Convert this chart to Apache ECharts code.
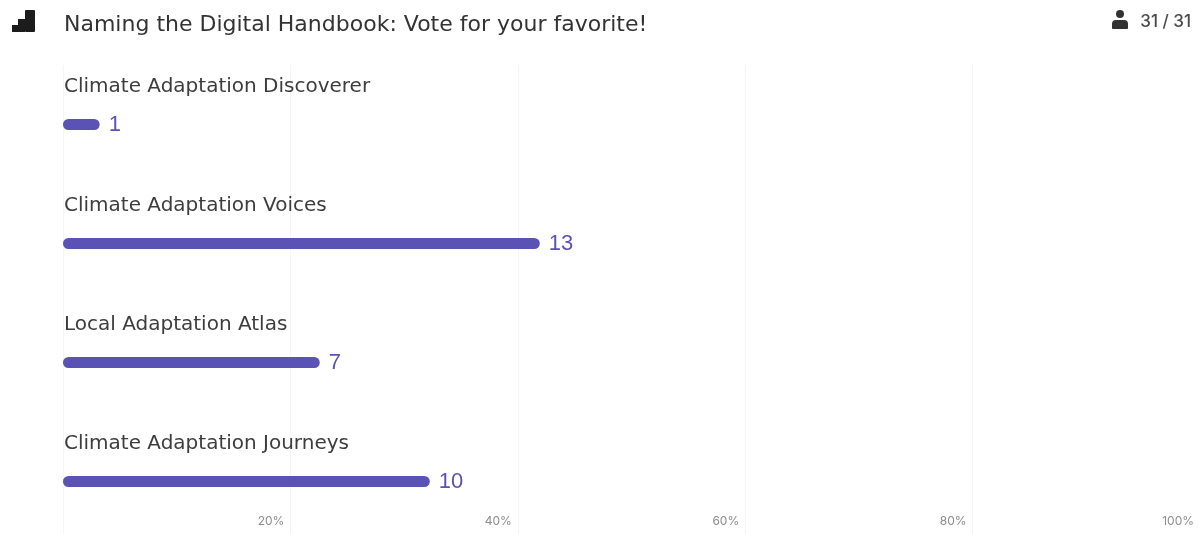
<!DOCTYPE html>
<html>
<head>
<meta charset="utf-8">
<style>
  html, body { margin: 0; padding: 0; background: #fff; }
  #chart { width: 1198px; height: 534px; }
</style>
<script src="https://cdn.jsdelivr.net/npm/echarts@6/dist/echarts.min.js"></script>
</head>
<body>
<div id="chart"></div>
<script>
const pollTitle = 'Naming the Digital Handbook: Vote for your favorite!';
const responseLabel = '31 / 31';
const categories = ['Climate Adaptation Discoverer', 'Climate Adaptation Voices', 'Local Adaptation Atlas', 'Climate Adaptation Journeys'];
const votes = [1, 13, 7, 10];
const totalVotes = 31;
const percentTicks = ['', '20%', '40%', '60%', '80%', '100%'];

const FONT = '"DejaVu Sans", sans-serif';
const BAR_COLOR = '#5b52b5';

const chart = echarts.init(document.getElementById('chart'));
chart.setOption({
  backgroundColor: '#ffffff',
  animation: false,
  title: [
    { text: pollTitle, left: 64, top: 14, padding: 0, textStyle: { fontFamily: FONT, fontWeight: 400, fontSize: 22, color: '#333333' } },
    { text: responseLabel, right: 7, top: 13, padding: 0, textStyle: { fontFamily: 'Inter', fontWeight: 500, fontSize: 17, color: '#4a4a4a' } }
  ],
  // the plot runs past the window edges so the 100% line and last band fall outside it
  grid: { left: 63, top: 65, width: 1137, height: 476, outerBoundsMode: 'none' },
  xAxis: {
    type: 'value', min: 0, max: totalVotes, interval: totalVotes / 5,
    axisLine: { show: false }, axisTick: { show: false },
    splitLine: { show: true, lineStyle: { color: '#f5f5f5', width: 1 } },
    axisLabel: {
      inside: true, margin: 14, align: 'right', padding: [0, 6, 0, 0],
      fontFamily: 'Inter', fontSize: 12, color: '#8c8c8c', hideOverlap: false, showMaxLabel: true,
      formatter: (value) => percentTicks[Math.round(value / (totalVotes / 5))]
    }
  },
  yAxis: {
    type: 'category', data: categories, inverse: true,
    axisLine: { show: false }, axisTick: { show: false }, splitLine: { show: false },
    axisLabel: { show: false }
  },
  series: [
    {
      type: 'bar', data: votes, barWidth: 11, z: 3,
      itemStyle: { color: BAR_COLOR, borderRadius: 5.5 },
      label: { show: true, position: 'right', distance: 9, fontFamily: '"Liberation Sans"', fontSize: 22, color: BAR_COLOR }
    },
    {
      // invisible twin of the bars, carrying each option's name above its bar
      type: 'bar', data: votes, barWidth: 11, barGap: '-100%', z: 2,
      itemStyle: { color: 'transparent' },
      label: {
        show: true, position: 'insideLeft', distance: 0, offset: [1, -38], formatter: '{b}',
        fontFamily: FONT, fontSize: 20, color: '#3d3d3d'
      }
    }
  ],
  graphic: [
    // chart glyph beside the question
    { type: 'rect', shape: { x: 12, y: 25, width: 6, height: 7 }, style: { fill: '#1c1c1c' } },
    { type: 'rect', shape: { x: 18, y: 19, width: 7, height: 13 }, style: { fill: '#1c1c1c' } },
    { type: 'rect', shape: { x: 25, y: 10, width: 10, height: 22, r: 1 }, style: { fill: '#1c1c1c' } },
    // respondent glyph
    { type: 'circle', shape: { cx: 1120, cy: 14, r: 4 }, style: { fill: '#333333' } },
    { type: 'rect', shape: { x: 1112, y: 20, width: 16, height: 9, r: [4, 4, 1, 1] }, style: { fill: '#333333' } }
  ]
});
</script>
</body>
</html>
